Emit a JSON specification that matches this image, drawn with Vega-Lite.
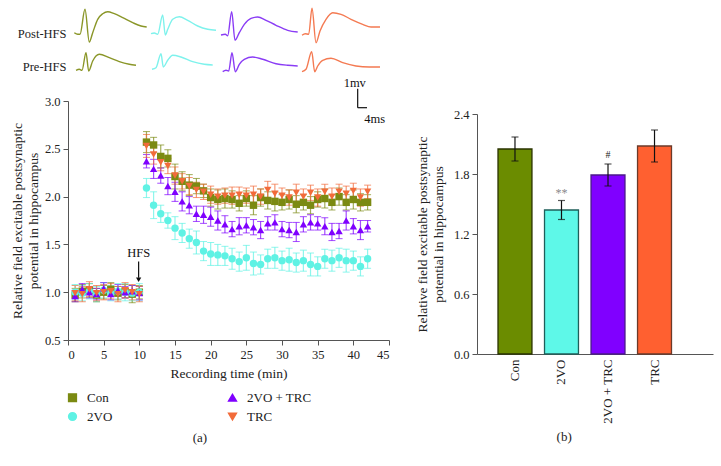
{
"$schema": "https://vega.github.io/schema/vega-lite/v6.json",
"padding": {"left": 10, "top": 5, "right": 5, "bottom": 5},
"config": {
  "font": "Liberation Serif",
  "view": {"stroke": null},
  "axis": {"labelFont": "Liberation Serif", "titleFont": "Liberation Serif", "labelFontSize": 12.5, "titleFontSize": 13.5, "titleFontWeight": "normal", "labelColor": "#222", "titleColor": "#222", "domainColor": "#555", "tickColor": "#555", "grid": false, "tickSize": 5, "titleLineHeight": 16},
  "legend": {"labelFont": "Liberation Serif", "labelFontSize": 13, "labelColor": "#222", "symbolOpacity": 1},
  "title": {"font": "Liberation Serif", "fontSize": 13, "fontWeight": "normal", "color": "#222"},
  "text": {"font": "Liberation Serif"}
},
"datasets": {
  "ltp": [
    {"g":"Con","t":1,"y":0.97,"e":0.07},{"g":"Con","t":2,"y":1.01,"e":0.07},{"g":"Con","t":3,"y":1.02,"e":0.07},{"g":"Con","t":4,"y":0.97,"e":0.07},{"g":"Con","t":5,"y":1.00,"e":0.07},{"g":"Con","t":6,"y":1.03,"e":0.07},{"g":"Con","t":7,"y":0.99,"e":0.07},{"g":"Con","t":8,"y":1.01,"e":0.07},{"g":"Con","t":9,"y":0.98,"e":0.09},{"g":"Con","t":10,"y":1.00,"e":0.07},
    {"g":"Con","t":11,"y":2.57,"e":0.11},{"g":"Con","t":12,"y":2.54,"e":0.08},{"g":"Con","t":13,"y":2.42,"e":0.12},{"g":"Con","t":14,"y":2.40,"e":0.09},{"g":"Con","t":15,"y":2.21,"e":0.13},{"g":"Con","t":16,"y":2.16,"e":0.10},{"g":"Con","t":17,"y":2.12,"e":0.11},{"g":"Con","t":18,"y":2.11,"e":0.08},{"g":"Con","t":19,"y":2.06,"e":0.07},{"g":"Con","t":20,"y":1.99,"e":0.09},{"g":"Con","t":21,"y":1.97,"e":0.10},{"g":"Con","t":22,"y":1.98,"e":0.10},{"g":"Con","t":23,"y":1.97,"e":0.09},{"g":"Con","t":24,"y":1.93,"e":0.08},{"g":"Con","t":25,"y":1.98,"e":0.08},{"g":"Con","t":26,"y":1.91,"e":0.10},{"g":"Con","t":27,"y":1.99,"e":0.09},{"g":"Con","t":28,"y":1.96,"e":0.09},{"g":"Con","t":29,"y":1.95,"e":0.10},{"g":"Con","t":30,"y":1.94,"e":0.08},{"g":"Con","t":31,"y":1.97,"e":0.10},{"g":"Con","t":32,"y":1.92,"e":0.09},{"g":"Con","t":33,"y":1.94,"e":0.08},{"g":"Con","t":34,"y":1.91,"e":0.09},{"g":"Con","t":35,"y":1.97,"e":0.08},{"g":"Con","t":36,"y":1.98,"e":0.10},{"g":"Con","t":37,"y":1.94,"e":0.08},{"g":"Con","t":38,"y":2.00,"e":0.09},{"g":"Con","t":39,"y":1.94,"e":0.08},{"g":"Con","t":40,"y":1.97,"e":0.10},{"g":"Con","t":41,"y":1.94,"e":0.09},{"g":"Con","t":42,"y":1.94,"e":0.08},
    {"g":"2VO","t":1,"y":1.00,"e":0.08},{"g":"2VO","t":2,"y":0.99,"e":0.08},{"g":"2VO","t":3,"y":1.01,"e":0.08},{"g":"2VO","t":4,"y":0.98,"e":0.08},{"g":"2VO","t":5,"y":1.02,"e":0.08},{"g":"2VO","t":6,"y":0.99,"e":0.08},{"g":"2VO","t":7,"y":1.01,"e":0.08},{"g":"2VO","t":8,"y":1.00,"e":0.09},{"g":"2VO","t":9,"y":0.99,"e":0.08},{"g":"2VO","t":10,"y":1.00,"e":0.09},
    {"g":"2VO","t":11,"y":2.09,"e":0.10},{"g":"2VO","t":12,"y":1.91,"e":0.14},{"g":"2VO","t":13,"y":1.82,"e":0.09},{"g":"2VO","t":14,"y":1.75,"e":0.08},{"g":"2VO","t":15,"y":1.67,"e":0.12},{"g":"2VO","t":16,"y":1.62,"e":0.10},{"g":"2VO","t":17,"y":1.56,"e":0.10},{"g":"2VO","t":18,"y":1.52,"e":0.12},{"g":"2VO","t":19,"y":1.43,"e":0.10},{"g":"2VO","t":20,"y":1.40,"e":0.12},{"g":"2VO","t":21,"y":1.39,"e":0.11},{"g":"2VO","t":22,"y":1.38,"e":0.10},{"g":"2VO","t":23,"y":1.35,"e":0.11},{"g":"2VO","t":24,"y":1.32,"e":0.10},{"g":"2VO","t":25,"y":1.36,"e":0.13},{"g":"2VO","t":26,"y":1.30,"e":0.12},{"g":"2VO","t":27,"y":1.29,"e":0.10},{"g":"2VO","t":28,"y":1.35,"e":0.10},{"g":"2VO","t":29,"y":1.36,"e":0.11},{"g":"2VO","t":30,"y":1.33,"e":0.10},{"g":"2VO","t":31,"y":1.34,"e":0.12},{"g":"2VO","t":32,"y":1.31,"e":0.10},{"g":"2VO","t":33,"y":1.33,"e":0.11},{"g":"2VO","t":34,"y":1.29,"e":0.12},{"g":"2VO","t":35,"y":1.27,"e":0.10},{"g":"2VO","t":36,"y":1.35,"e":0.10},{"g":"2VO","t":37,"y":1.33,"e":0.11},{"g":"2VO","t":38,"y":1.36,"e":0.10},{"g":"2VO","t":39,"y":1.33,"e":0.12},{"g":"2VO","t":40,"y":1.33,"e":0.10},{"g":"2VO","t":41,"y":1.27,"e":0.10},{"g":"2VO","t":42,"y":1.35,"e":0.10},
    {"g":"2VO + TRC","t":1,"y":0.96,"e":0.06},{"g":"2VO + TRC","t":2,"y":1.03,"e":0.06},{"g":"2VO + TRC","t":3,"y":1.00,"e":0.06},{"g":"2VO + TRC","t":4,"y":0.98,"e":0.06},{"g":"2VO + TRC","t":5,"y":1.04,"e":0.06},{"g":"2VO + TRC","t":6,"y":0.98,"e":0.06},{"g":"2VO + TRC","t":7,"y":1.02,"e":0.06},{"g":"2VO + TRC","t":8,"y":1.00,"e":0.06},{"g":"2VO + TRC","t":9,"y":1.01,"e":0.06},{"g":"2VO + TRC","t":10,"y":0.99,"e":0.07},
    {"g":"2VO + TRC","t":11,"y":2.37,"e":0.07},{"g":"2VO + TRC","t":12,"y":2.29,"e":0.10},{"g":"2VO + TRC","t":13,"y":2.22,"e":0.08},{"g":"2VO + TRC","t":14,"y":2.11,"e":0.09},{"g":"2VO + TRC","t":15,"y":2.05,"e":0.10},{"g":"2VO + TRC","t":16,"y":1.95,"e":0.10},{"g":"2VO + TRC","t":17,"y":1.91,"e":0.09},{"g":"2VO + TRC","t":18,"y":1.82,"e":0.08},{"g":"2VO + TRC","t":19,"y":1.81,"e":0.09},{"g":"2VO + TRC","t":20,"y":1.79,"e":0.10},{"g":"2VO + TRC","t":21,"y":1.75,"e":0.10},{"g":"2VO + TRC","t":22,"y":1.71,"e":0.09},{"g":"2VO + TRC","t":23,"y":1.66,"e":0.08},{"g":"2VO + TRC","t":24,"y":1.69,"e":0.09},{"g":"2VO + TRC","t":25,"y":1.70,"e":0.08},{"g":"2VO + TRC","t":26,"y":1.68,"e":0.08},{"g":"2VO + TRC","t":27,"y":1.65,"e":0.09},{"g":"2VO + TRC","t":28,"y":1.72,"e":0.07},{"g":"2VO + TRC","t":29,"y":1.73,"e":0.08},{"g":"2VO + TRC","t":30,"y":1.66,"e":0.08},{"g":"2VO + TRC","t":31,"y":1.65,"e":0.08},{"g":"2VO + TRC","t":32,"y":1.63,"e":0.10},{"g":"2VO + TRC","t":33,"y":1.71,"e":0.08},{"g":"2VO + TRC","t":34,"y":1.73,"e":0.08},{"g":"2VO + TRC","t":35,"y":1.72,"e":0.07},{"g":"2VO + TRC","t":36,"y":1.69,"e":0.09},{"g":"2VO + TRC","t":37,"y":1.63,"e":0.09},{"g":"2VO + TRC","t":38,"y":1.64,"e":0.08},{"g":"2VO + TRC","t":39,"y":1.75,"e":0.10},{"g":"2VO + TRC","t":40,"y":1.69,"e":0.08},{"g":"2VO + TRC","t":41,"y":1.65,"e":0.10},{"g":"2VO + TRC","t":42,"y":1.69,"e":0.06},
    {"g":"TRC","t":1,"y":0.99,"e":0.08},{"g":"TRC","t":2,"y":0.98,"e":0.08},{"g":"TRC","t":3,"y":1.03,"e":0.08},{"g":"TRC","t":4,"y":0.99,"e":0.08},{"g":"TRC","t":5,"y":1.00,"e":0.08},{"g":"TRC","t":6,"y":1.01,"e":0.08},{"g":"TRC","t":7,"y":0.98,"e":0.08},{"g":"TRC","t":8,"y":1.02,"e":0.08},{"g":"TRC","t":9,"y":1.00,"e":0.08},{"g":"TRC","t":10,"y":0.98,"e":0.08},
    {"g":"TRC","t":11,"y":2.53,"e":0.12},{"g":"TRC","t":12,"y":2.44,"e":0.10},{"g":"TRC","t":13,"y":2.36,"e":0.09},{"g":"TRC","t":14,"y":2.32,"e":0.08},{"g":"TRC","t":15,"y":2.22,"e":0.09},{"g":"TRC","t":16,"y":2.16,"e":0.08},{"g":"TRC","t":17,"y":2.11,"e":0.09},{"g":"TRC","t":18,"y":2.07,"e":0.08},{"g":"TRC","t":19,"y":2.05,"e":0.08},{"g":"TRC","t":20,"y":2.02,"e":0.09},{"g":"TRC","t":21,"y":2.00,"e":0.08},{"g":"TRC","t":22,"y":2.01,"e":0.08},{"g":"TRC","t":23,"y":2.01,"e":0.09},{"g":"TRC","t":24,"y":2.02,"e":0.08},{"g":"TRC","t":25,"y":2.01,"e":0.08},{"g":"TRC","t":26,"y":2.02,"e":0.09},{"g":"TRC","t":27,"y":2.00,"e":0.08},{"g":"TRC","t":28,"y":2.07,"e":0.09},{"g":"TRC","t":29,"y":2.03,"e":0.10},{"g":"TRC","t":30,"y":2.01,"e":0.08},{"g":"TRC","t":31,"y":1.99,"e":0.08},{"g":"TRC","t":32,"y":2.04,"e":0.09},{"g":"TRC","t":33,"y":2.00,"e":0.08},{"g":"TRC","t":34,"y":2.04,"e":0.08},{"g":"TRC","t":35,"y":1.99,"e":0.09},{"g":"TRC","t":36,"y":2.05,"e":0.08},{"g":"TRC","t":37,"y":2.00,"e":0.09},{"g":"TRC","t":38,"y":2.05,"e":0.08},{"g":"TRC","t":39,"y":2.03,"e":0.08},{"g":"TRC","t":40,"y":2.06,"e":0.08},{"g":"TRC","t":41,"y":1.99,"e":0.09},{"g":"TRC","t":42,"y":2.05,"e":0.07}
  ],
  "traces": [
    {"g":"Con","trace":"Con post","t":2.52,"v":4.33},{"g":"Con","trace":"Con post","t":3.88,"v":4.17},{"g":"Con","trace":"Con post","t":4.8,"v":4.17},{"g":"Con","trace":"Con post","t":6.8,"v":6.67},{"g":"Con","trace":"Con post","t":8.52,"v":3.4},{"g":"Con","trace":"Con post","t":9.88,"v":4.33},{"g":"Con","trace":"Con post","t":11.88,"v":5.67},{"g":"Con","trace":"Con post","t":13.88,"v":6.23},{"g":"Con","trace":"Con post","t":15.88,"v":6.43},{"g":"Con","trace":"Con post","t":18.52,"v":6.23},{"g":"Con","trace":"Con post","t":21.88,"v":5.83},{"g":"Con","trace":"Con post","t":25.88,"v":5.33},{"g":"Con","trace":"Con post","t":29.2,"v":5.0},{"g":"Con","trace":"Con post","t":31.48,"v":4.9},
    {"g":"Con","trace":"Con pre","t":3.2,"v":0.57},{"g":"Con","trace":"Con pre","t":4.52,"v":0.67},{"g":"Con","trace":"Con pre","t":5.6,"v":0.57},{"g":"Con","trace":"Con pre","t":7.2,"v":2.33},{"g":"Con","trace":"Con pre","t":8.28,"v":0.5},{"g":"Con","trace":"Con pre","t":9.88,"v":1.5},{"g":"Con","trace":"Con pre","t":12.52,"v":2.17},{"g":"Con","trace":"Con pre","t":16.52,"v":1.83},{"g":"Con","trace":"Con pre","t":20.52,"v":1.43},{"g":"Con","trace":"Con pre","t":24.52,"v":1.17},{"g":"Con","trace":"Con pre","t":27.2,"v":1.07},
    {"g":"2VO","trace":"2VO post","t":33.2,"v":4.23},{"g":"2VO","trace":"2VO post","t":34.52,"v":4.3},{"g":"2VO","trace":"2VO post","t":35.88,"v":4.17},{"g":"2VO","trace":"2VO post","t":37.88,"v":6.1},{"g":"2VO","trace":"2VO post","t":38.92,"v":4.1},{"g":"2VO","trace":"2VO post","t":39.88,"v":4.67},{"g":"2VO","trace":"2VO post","t":41.88,"v":5.67},{"g":"2VO","trace":"2VO post","t":44.52,"v":5.93},{"g":"2VO","trace":"2VO post","t":47.88,"v":5.57},{"g":"2VO","trace":"2VO post","t":51.88,"v":5.0},{"g":"2VO","trace":"2VO post","t":55.88,"v":4.67},{"g":"2VO","trace":"2VO post","t":59.2,"v":4.57},
    {"g":"2VO","trace":"2VO pre","t":33.6,"v":0.67},{"g":"2VO","trace":"2VO pre","t":35.2,"v":0.83},{"g":"2VO","trace":"2VO pre","t":37.2,"v":2.23},{"g":"2VO","trace":"2VO pre","t":38.12,"v":0.9},{"g":"2VO","trace":"2VO pre","t":39.88,"v":1.57},{"g":"2VO","trace":"2VO pre","t":41.88,"v":2.07},{"g":"2VO","trace":"2VO pre","t":45.2,"v":1.9},{"g":"2VO","trace":"2VO pre","t":49.88,"v":1.43},{"g":"2VO","trace":"2VO pre","t":54.52,"v":1.17},{"g":"2VO","trace":"2VO pre","t":57.88,"v":1.1},
    {"g":"2VO + TRC","trace":"V post","t":61.2,"v":4.1},{"g":"2VO + TRC","trace":"V post","t":62.92,"v":4.17},{"g":"2VO + TRC","trace":"V post","t":63.88,"v":4.03},{"g":"2VO + TRC","trace":"V post","t":65.48,"v":6.43},{"g":"2VO + TRC","trace":"V post","t":66.8,"v":3.57},{"g":"2VO + TRC","trace":"V post","t":68.52,"v":4.33},{"g":"2VO + TRC","trace":"V post","t":70.52,"v":5.17},{"g":"2VO + TRC","trace":"V post","t":73.2,"v":5.77},{"g":"2VO + TRC","trace":"V post","t":75.88,"v":5.9},{"g":"2VO + TRC","trace":"V post","t":79.2,"v":5.57},{"g":"2VO + TRC","trace":"V post","t":83.2,"v":5.07},{"g":"2VO + TRC","trace":"V post","t":87.88,"v":4.57},{"g":"2VO + TRC","trace":"V post","t":91.88,"v":4.4},
    {"g":"2VO + TRC","trace":"V pre","t":61.88,"v":0.43},{"g":"2VO + TRC","trace":"V pre","t":63.2,"v":0.57},{"g":"2VO + TRC","trace":"V pre","t":64.28,"v":0.5},{"g":"2VO + TRC","trace":"V pre","t":65.6,"v":2.33},{"g":"2VO + TRC","trace":"V pre","t":66.92,"v":0.43},{"g":"2VO + TRC","trace":"V pre","t":68.52,"v":1.17},{"g":"2VO + TRC","trace":"V pre","t":70.52,"v":1.67},{"g":"2VO + TRC","trace":"V pre","t":73.88,"v":1.9},{"g":"2VO + TRC","trace":"V pre","t":77.88,"v":1.67},{"g":"2VO + TRC","trace":"V pre","t":83.2,"v":1.23},{"g":"2VO + TRC","trace":"V pre","t":87.88,"v":1.07},{"g":"2VO + TRC","trace":"V pre","t":91.88,"v":1.0},
    {"g":"TRC","trace":"TRC post","t":93.6,"v":4.07},{"g":"TRC","trace":"TRC post","t":94.92,"v":4.23},{"g":"TRC","trace":"TRC post","t":96.28,"v":4.17},{"g":"TRC","trace":"TRC post","t":97.6,"v":6.77},{"g":"TRC","trace":"TRC post","t":99.2,"v":3.33},{"g":"TRC","trace":"TRC post","t":100.8,"v":4.5},{"g":"TRC","trace":"TRC post","t":103.2,"v":5.67},{"g":"TRC","trace":"TRC post","t":105.88,"v":6.33},{"g":"TRC","trace":"TRC post","t":109.2,"v":6.17},{"g":"TRC","trace":"TRC post","t":113.2,"v":5.67},{"g":"TRC","trace":"TRC post","t":117.88,"v":5.17},{"g":"TRC","trace":"TRC post","t":121.2,"v":4.9},{"g":"TRC","trace":"TRC post","t":124.8,"v":4.9},
    {"g":"TRC","trace":"TRC pre","t":93.6,"v":0.43},{"g":"TRC","trace":"TRC pre","t":95.2,"v":0.67},{"g":"TRC","trace":"TRC pre","t":97.48,"v":2.43},{"g":"TRC","trace":"TRC pre","t":98.68,"v":0.43},{"g":"TRC","trace":"TRC pre","t":99.88,"v":1.0},{"g":"TRC","trace":"TRC pre","t":101.88,"v":1.57},{"g":"TRC","trace":"TRC pre","t":105.2,"v":1.77},{"g":"TRC","trace":"TRC pre","t":109.88,"v":1.33},{"g":"TRC","trace":"TRC pre","t":115.2,"v":1.0},{"g":"TRC","trace":"TRC pre","t":120.52,"v":0.9},{"g":"TRC","trace":"TRC pre","t":124.8,"v":0.9}
  ]
},
"bounds": "flush",
"columns": 2,
"spacing": {"row": 25, "column": 88},
"resolve": {"scale": {"color": "independent", "shape": "independent", "stroke": "independent"}},
"concat": [
  {
    "width": 321, "height": 70,
    "layer": [
      {
        "data": {"name": "traces"},
        "mark": {"type": "line", "interpolate": "monotone", "strokeWidth": 1.4},
        "encoding": {
          "x": {"field": "t", "type": "quantitative", "scale": {"domain": [0, 128.4], "nice": false}, "axis": null},
          "y": {"field": "v", "type": "quantitative", "scale": {"domain": [0, 7], "nice": false}, "axis": null},
          "detail": {"field": "trace"},
          "color": {"field": "g", "type": "nominal", "scale": {"domain": ["Con", "2VO", "2VO + TRC", "TRC"], "range": ["#8a9628", "#7ef2ec", "#8a3cf5", "#f47a52"]}, "legend": null}
        }
      },
      {
        "data": {"values": [{"t": -0.6, "v": 4.2, "label": "Post-HFS"}, {"t": -0.6, "v": 0.9, "label": "Pre-HFS"}]},
        "mark": {"type": "text", "align": "right", "baseline": "middle", "fontSize": 12.5, "color": "#222"},
        "encoding": {
          "x": {"field": "t", "type": "quantitative"},
          "y": {"field": "v", "type": "quantitative"},
          "text": {"field": "label"}
        }
      }
    ]
  },
  {"width": 236, "height": 70, "data": {"values": []}, "mark": "point", "encoding": {}},
  {
    "width": 321, "height": 239,
    "title": {"text": "(a)", "orient": "bottom", "anchor": "middle", "frame": "bounds", "offset": 8},
    "encoding": {
      "x": {"field": "t", "type": "quantitative", "scale": {"domain": [0, 45], "nice": false}, "axis": {"values": [0, 5, 10, 15, 20, 25, 30, 35, 40, 45], "title": "Recording time (min)", "titlePadding": 6, "labelPadding": 3}},
      "y": {"field": "y", "type": "quantitative", "scale": {"domain": [0.5, 3], "nice": false}, "axis": {"values": [0.5, 1, 1.5, 2, 2.5, 3], "format": ".1f", "title": ["Relative field excitable postsynaptic", "potential in hippocampus"], "titlePadding": 4, "labelPadding": 3}}
    },
    "layer": [
      {
        "data": {"name": "ltp"},
        "mark": {"type": "errorbar", "ticks": {"size": 7, "opacity": 0.7}, "rule": {"opacity": 0.7, "strokeWidth": 1.2}},
        "encoding": {
          "yError": {"field": "e"},
          "color": {"field": "g", "type": "nominal", "scale": {"domain": ["Con", "2VO", "2VO + TRC", "TRC"], "range": ["#7b8a12", "#5ff2e4", "#7f00ff", "#f26b3a"]}}
        }
      },
      {
        "data": {"name": "ltp"},
        "mark": {"type": "point", "filled": true, "opacity": 1, "size": 55},
        "encoding": {
          "color": {"field": "g", "type": "nominal", "scale": {"domain": ["Con", "2VO", "2VO + TRC", "TRC"], "range": ["#7b8a12", "#5ff2e4", "#7f00ff", "#f26b3a"]},
            "legend": {"title": null, "orient": "none", "legendX": -2, "legendY": 290, "columns": 2, "columnPadding": 112, "rowPadding": 4, "symbolSize": 60, "labelOffset": 8, "symbolOpacity": 1}},
          "shape": {"field": "g", "type": "nominal", "scale": {"domain": ["Con", "2VO", "2VO + TRC", "TRC"], "range": ["square", "circle", "triangle-up", "triangle-down"]}}
        }
      },
      {
        "data": {"values": [{"t": 9.9, "y": 1.41, "label": "HFS"}, {"t": 40.2, "y": 3.185, "label": "1mv"}, {"t": 43.0, "y": 2.815, "label": "4ms"}]},
        "mark": {"type": "text", "fontSize": 12.5, "color": "#111", "baseline": "middle"},
        "encoding": {"text": {"field": "label"}}
      },
      {
        "data": {"values": [{"t": 9.9, "y": 1.32, "t2": 9.9, "y2": 1.15}, {"t": 40.61, "y": 3.129, "t2": 40.61, "y2": 2.93}, {"t": 40.61, "y": 2.93, "t2": 41.92, "y2": 2.93}]},
        "mark": {"type": "rule", "color": "#111", "strokeWidth": 1.2},
        "encoding": {"x2": {"field": "t2"}, "y2": {"field": "y2"}}
      },
      {
        "data": {"values": [{"t": 9.9, "y": 1.13}]},
        "mark": {"type": "point", "shape": "triangle-down", "filled": true, "size": 28, "color": "#111", "opacity": 1},
        "encoding": {}
      }
    ]
  },
  {
    "width": 236, "height": 253,
    "title": {"text": "(b)", "orient": "bottom", "anchor": "middle", "frame": "bounds", "offset": 8},
    "data": {"values": [
      {"g": "Con", "m": 2.05, "e": 0.12},
      {"g": "2VO", "m": 1.44, "e": 0.095},
      {"g": "2VO + TRC", "m": 1.79, "e": 0.11},
      {"g": "TRC", "m": 2.08, "e": 0.16}
    ]},
    "encoding": {
      "x": {"field": "g", "type": "nominal", "sort": null, "scale": {"paddingInner": 0.27, "paddingOuter": 0.672, "align": 0.336}, "axis": {"labelAngle": -90, "ticks": false, "title": null, "labelPadding": 5, "labelFontSize": 13}},
      "y": {"field": "m", "type": "quantitative", "scale": {"domain": [0, 2.4], "nice": false, "range": [253, 13]}, "axis": {"values": [0, 0.6, 1.2, 1.8, 2.4], "format": ".1f", "title": ["Relative field excitable postsynaptic", "potential in hippocampus"], "titlePadding": 8, "labelPadding": 3}}
    },
    "layer": [
      {
        "mark": {"type": "bar", "strokeWidth": 1.3},
        "encoding": {
          "color": {"field": "g", "type": "nominal", "sort": null, "scale": {"domain": ["Con", "2VO", "2VO + TRC", "TRC"], "range": ["#6b8c00", "#5ef8e8", "#8000ff", "#ff6030"]}, "legend": null},
          "stroke": {"field": "g", "type": "nominal", "sort": null, "scale": {"domain": ["Con", "2VO", "2VO + TRC", "TRC"], "range": ["#2a3300", "#1f5f5a", "#4b1a8a", "#6b3a2a"]}, "legend": null}
        }
      },
      {
        "mark": {"type": "errorbar", "ticks": {"size": 7}, "color": "#111", "thickness": 1.2},
        "encoding": {"yError": {"field": "e"}}
      },
      {
        "data": {"values": [{"g": "2VO", "m": 1.607, "label": "**"}]},
        "mark": {"type": "text", "fontSize": 12, "color": "#888", "baseline": "middle"},
        "encoding": {"text": {"field": "label"}}
      },
      {
        "data": {"values": [{"g": "2VO + TRC", "m": 1.99, "label": "#"}]},
        "mark": {"type": "text", "fontSize": 10, "color": "#222", "baseline": "middle"},
        "encoding": {"text": {"field": "label"}}
      }
    ]
  }
]
}
